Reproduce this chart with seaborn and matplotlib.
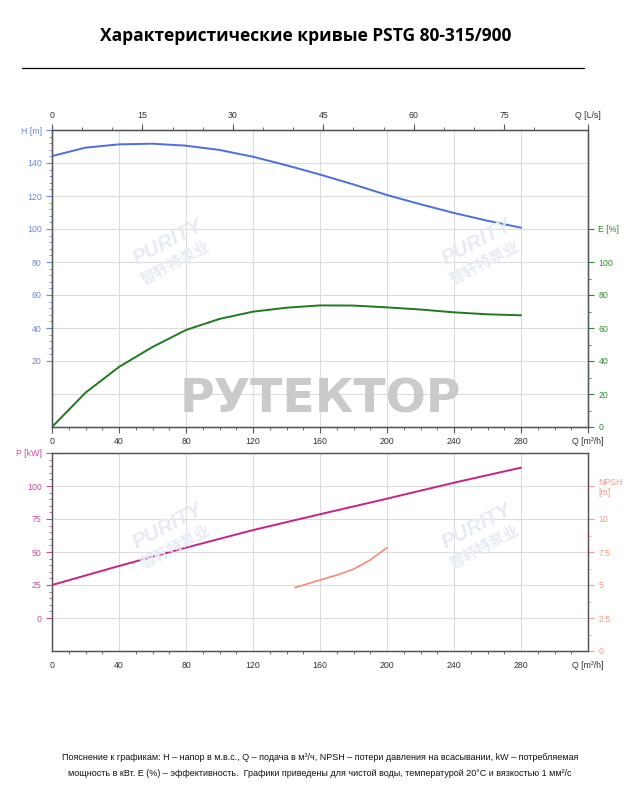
import matplotlib
matplotlib.use("Agg")
import matplotlib.pyplot as plt
import seaborn as sns
import numpy as np
from matplotlib.ticker import MultipleLocator, FixedLocator

# --- data ---
q_h = [0, 20, 40, 60, 80, 100, 120, 140, 160, 180, 200, 220, 240, 260, 280]
head = [144.2, 149.3, 151.3, 151.7, 150.5, 147.9, 143.8, 138.6, 133.0, 127.0, 120.6, 115.0, 109.7, 105.0, 100.8]
eff = [0, 20.8, 36.4, 48.5, 58.8, 65.5, 69.9, 72.3, 73.7, 73.6, 72.5, 71.2, 69.5, 68.3, 67.7]

q_p = [0, 40, 80, 120, 160, 200, 240, 280]
power = [25.0, 39.4, 53.3, 66.6, 78.6, 90.4, 102.5, 113.9]

q_npsh = [145, 160, 170, 180, 190, 200]
npsh = [4.8, 5.38, 5.75, 6.2, 6.9, 7.83]

q_ticks = [0, 40, 80, 120, 160, 200, 240, 280]
ls_ticks = [0, 15, 30, 45, 60, 75]

C_H = "#4a6fe3"
C_E = "#1f7a1f"
C_P = "#c8228a"
C_N = "#f78a72"
C_HL = "#6a86e0"
C_EL = "#2f8a2f"
C_PL = "#d5489c"
C_NL = "#f59a86"
C_SP = "#555555"
C_TK = "#333333"

sns.set_style("whitegrid")
plt.rcParams['font.family'] = ['Liberation Sans', 'DejaVu Sans']

fig = plt.figure(figsize=(6.4, 8), dpi=100)
ax1 = fig.add_axes([0.08125, 0.46625, 0.8375, 0.37125])
ax2 = fig.add_axes([0.08125, 0.18625, 0.8375, 0.2475])


def style_axes(ax):
    for s in ax.spines.values():
        s.set_color(C_SP)
        s.set_linewidth(1.0)
    ax.grid(True, color="#dcdcdc", linewidth=0.8)
    ax.set_xlim(0, 320)
    ax.set_xticks(q_ticks + [320])
    ax.set_xticklabels([str(t) for t in q_ticks] + ["Q [m³/h]"])
    ax.xaxis.set_minor_locator(MultipleLocator(10))
    ax.tick_params(axis='x', which='major', length=4, width=0.8, color=C_SP,
                   labelsize=6.3, labelcolor=C_TK, pad=3)
    ax.tick_params(axis='x', which='minor', length=2.5, width=0.6, color=C_SP, bottom=True)
    ax.set_xlabel("")
    ax.set_ylabel("")


# --- top panel: H and E ---
sns.lineplot(x=q_h, y=head, ax=ax1, color=C_H, linewidth=1.4)
style_axes(ax1)
ax1.set_ylim(-20, 160)
ax1.set_yticks([20, 40, 60, 80, 100, 120, 140, 160])
ax1.set_yticklabels(["20", "40", "60", "80", "100", "120", "140", "H [m]"])
ax1.axhline(0, color="#dcdcdc", linewidth=0.8, zorder=0.5)
ax1.yaxis.set_minor_locator(FixedLocator(np.arange(20, 160, 4)))
ax1.tick_params(axis='y', which='major', length=4, width=0.8, color=C_HL,
                labelsize=6.3, labelcolor=C_HL)
ax1.tick_params(axis='y', which='minor', length=2.5, width=0.6, color=C_HL, left=True)

ax1e = ax1.twinx()
sns.lineplot(x=q_h, y=eff, ax=ax1e, color=C_E, linewidth=1.4)
ax1e.grid(False)
ax1e.set_ylim(0, 180)
ax1e.set_yticks([0, 20, 40, 60, 80, 100, 120])
ax1e.set_yticklabels(["0", "20", "40", "60", "80", "100", "E [%]"])
ax1e.yaxis.set_minor_locator(FixedLocator(np.arange(10, 100, 10)))
ax1e.tick_params(axis='y', which='major', length=4, width=0.8, color=C_EL,
                 labelsize=6.3, labelcolor=C_EL)
ax1e.tick_params(axis='y', which='minor', length=2.5, width=0.6, color=C_EL, right=True)
ax1e.set_ylabel("")
for s in ax1e.spines.values():
    s.set_color(C_SP)

ax1t = ax1.twiny()
ax1t.grid(False)
ax1t.set_xlim(0, 320 / 3.6)
ax1t.set_xticks(ls_ticks + [320 / 3.6])
ax1t.set_xticklabels([str(t) for t in ls_ticks] + ["Q [L/s]"])
ax1t.xaxis.set_minor_locator(FixedLocator(np.arange(5, 85, 5)))
ax1t.tick_params(axis='x', which='major', length=4, width=0.8, color=C_SP,
                 labelsize=6.3, labelcolor=C_TK, pad=3)
ax1t.tick_params(axis='x', which='minor', length=2.5, width=0.6, color=C_SP, top=True)
for s in ax1t.spines.values():
    s.set_color(C_SP)

# --- bottom panel: P and NPSH ---
sns.lineplot(x=q_p, y=power, ax=ax2, color=C_P, linewidth=1.4)
style_axes(ax2)
ax2.set_ylim(-25, 125)
ax2.set_yticks([0, 25, 50, 75, 100, 125])
ax2.set_yticklabels(["0", "25", "50", "75", "100", "P [kW]"])
ax2.yaxis.set_minor_locator(FixedLocator(np.arange(5, 125, 5)))
ax2.tick_params(axis='y', which='major', length=4, width=0.8, color=C_PL,
                labelsize=6.3, labelcolor=C_PL)
ax2.tick_params(axis='y', which='minor', length=2.5, width=0.6, color=C_PL, left=True)

ax2n = ax2.twinx()
sns.lineplot(x=q_npsh, y=npsh, ax=ax2n, color=C_N, linewidth=1.2)
ax2n.grid(False)
ax2n.set_ylim(0, 15)
ax2n.set_yticks([0, 2.5, 5, 7.5, 10, 12.5])
ax2n.set_yticklabels(["0", "2.5", "5", "7.5", "10", "NPSH\n[m]"])
ax2n.yaxis.set_minor_locator(FixedLocator(np.arange(1.25, 10, 2.5)))
ax2n.tick_params(axis='y', which='major', length=4, width=0.8, color=C_NL,
                 labelsize=6.3, labelcolor=C_NL)
ax2n.tick_params(axis='y', which='minor', length=2.5, width=0.6, color=C_NL, right=True)
ax2n.set_ylabel("")
for s in ax2n.spines.values():
    s.set_color(C_SP)

# --- watermarks ---
fig.text(0.5, 0.5, "РУТЕКТОР", ha='center', va='center', fontsize=34,
         fontweight='bold', color="#cacaca", family=['DejaVu Sans'])
for (wx, wy) in [(0.262, 0.685), (0.745, 0.685), (0.262, 0.33), (0.745, 0.33)]:
    fig.text(wx, wy + 0.012, "PURITY", ha='center', va='center', fontsize=15,
             fontweight='bold', fontstyle='italic', color="#e6ebf4", rotation=28)
    fig.text(wx + 0.012, wy - 0.014, "智轩特泵业", ha='center', va='center', fontsize=11,
             fontweight='bold', color="#e6ebf4", rotation=28,
             family=['Noto Sans CJK SC', 'DejaVu Sans'])

# --- title and footer ---
fig.text(0.477, 0.955, "Характеристические кривые PSTG 80-315/900", ha='center', va='center',
         fontsize=12.5, fontweight='bold', color="black", family=['Open Sans', 'DejaVu Sans'])
fig.add_artist(plt.Line2D([22 / 640, 584 / 640], [1 - 68 / 800, 1 - 68 / 800],
                          color="black", linewidth=0.9))
fig.text(0.5, 1 - 757 / 800,
         "Пояснение к графикам: H – напор в м.в.с., Q – подача в м³/ч, NPSH – потери давления на всасывании, kW – потребляемая",
         ha='center', va='center', fontsize=6.5, color="#111111")
fig.text(0.5, 1 - 773 / 800,
         "мощность в кВт. E (%) – эффективность.  Графики приведены для чистой воды, температурой 20°C и вязкостью 1 мм²/с",
         ha='center', va='center', fontsize=6.5, color="#111111")

fig.savefig("out.png", dpi=100)
